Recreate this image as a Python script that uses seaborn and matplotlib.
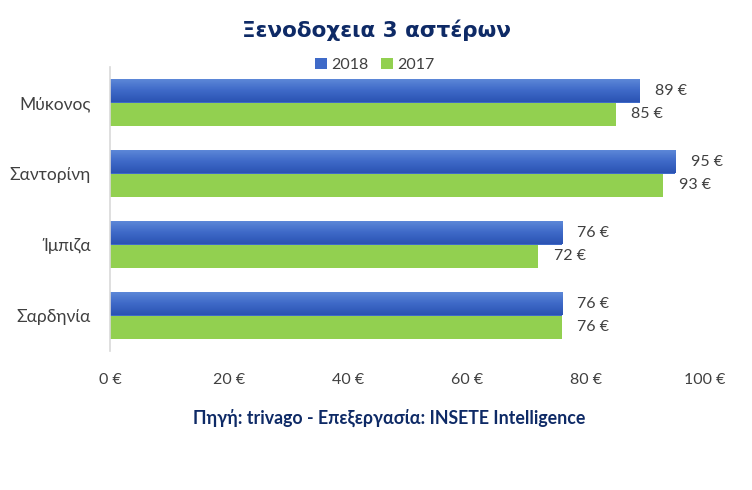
import matplotlib
matplotlib.use("Agg")
import matplotlib.pyplot as plt
import seaborn as sns
import pandas as pd
import numpy as np
from matplotlib.colors import LinearSegmentedColormap
from matplotlib.patches import Patch

categories = ["Μύκονος", "Σαντορίνη", "Ίμπιζα", "Σαρδηνία"]
values_2018 = [89, 95, 76, 76]
values_2017 = [85, 93, 72, 76]
series = ["2018", "2017"]
xticks = [0, 20, 40, 60, 80, 100]

df = pd.DataFrame({
    "cat": categories * 2,
    "year": [series[0]] * 4 + [series[1]] * 4,
    "val": values_2018 + values_2017,
})

sns.set_theme(style="white")
plt.rcParams["font.family"] = ["Lato", "DejaVu Sans"]

fig = plt.figure(figsize=(7.52, 4.90), dpi=100)
ax = fig.add_axes([110 / 752, 1 - 351 / 490, 595 / 752, 284 / 490])

palette = {"2018": "#3F6AC8", "2017": "#92D050"}
sns.barplot(data=df, y="cat", x="val", hue="year", order=categories,
            hue_order=series, palette=palette, width=0.66, orient="h",
            saturation=1, ax=ax, legend=False, linewidth=0, edgecolor="none")

# vertical gradient on 2018 bars
cmap = LinearSegmentedColormap.from_list("bl", ["#5F8AD9", "#3F6AC8", "#2B53B3"])
grad = np.linspace(0, 1, 64).reshape(-1, 1)
for p in ax.containers[0].patches:
    x0, y0 = p.get_x(), p.get_y()
    w, h = p.get_width(), p.get_height()
    im = ax.imshow(grad, cmap=cmap, aspect="auto",
                   extent=(x0, x0 + w, y0 + h, y0), origin="upper", zorder=p.get_zorder())
    im.set_clip_path(p)

ax.set_xlim(0, 100)
ax.set_ylim(3.5, -0.5)
ax.set_xticks(xticks)
ax.set_xticklabels([f"{v} €" for v in xticks], color="#404040", fontsize=11.5)
ax.tick_params(axis="x", length=0, pad=16)
ax.tick_params(axis="y", length=0, pad=14, labelsize=12.5, labelcolor="#404040")
ax.set_xlabel("")
ax.set_ylabel("")
for s in ["top", "right", "bottom"]:
    ax.spines[s].set_visible(False)
ax.spines["left"].set_color("#D9D9D9")
ax.spines["left"].set_linewidth(1.2)
ax.grid(False)

for cont in ax.containers:
    ax.bar_label(cont, labels=[f"{v:.0f} €" for v in cont.datavalues],
                 padding=11, color="#404040", fontsize=11.5)

fig.text(0.5, 1 - 30 / 490, "Ξενοδοχεια 3 αστέρων", ha="center", va="center",
         fontsize=15.5, fontweight="bold", color="#0E2A66", family=["DejaVu Sans"])

handles = [Patch(facecolor=palette[s], edgecolor="none", label=s) for s in series]
fig.legend(handles=handles, loc="center", bbox_to_anchor=(375 / 752, 1 - 65 / 490),
           ncol=2, frameon=False, fontsize=11.5, handlelength=0.7, handleheight=0.7,
           handletextpad=0.3, columnspacing=0.8, labelcolor="#404040")

fig.text(389 / 752, 1 - 418 / 490, "Πηγή: trivago - Επεξεργασία: INSETE Intelligence",
         ha="center", va="center", fontsize=12.8, fontweight="bold", color="#0E2A66")

fig.savefig("out.png", dpi=100)
